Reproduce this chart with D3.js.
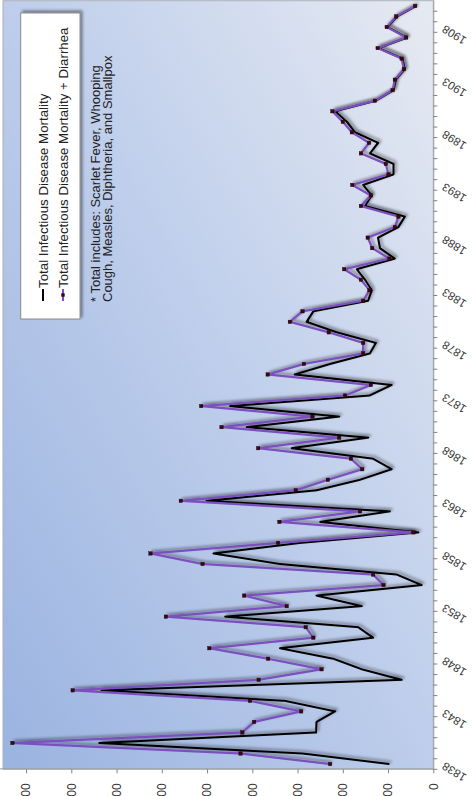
<!DOCTYPE html>
<html><head><meta charset="utf-8">
<script src="https://cdn.jsdelivr.net/npm/d3@7"></script>
<style>html,body{margin:0;padding:0;background:#fff;overflow:hidden}</style>
</head><body>
<svg id="c" width="473" height="796"></svg>
<script>
const years=[1838,1839,1840,1841,1842,1843,1844,1845,1846,1847,1848,1849,1850,1851,1852,1853,1854,1855,1856,1857,1858,1859,1860,1861,1862,1863,1864,1865,1866,1867,1868,1869,1870,1871,1872,1873,1874,1875,1876,1877,1878,1879,1880,1881,1882,1883,1884,1885,1886,1887,1888,1889,1890,1891,1892,1893,1894,1895,1896,1897,1898,1899,1900,1901,1902,1903,1904,1905,1906,1907,1908,1909,1910];
const totalMortality=[97,289,738,259,258,217,328,733,70,158,221,339,133,166,460,158,258,26,81,339,486,295,33,250,96,501,258,162,92,133,313,144,412,208,449,141,92,306,228,140,127,213,280,265,144,136,151,169,85,118,122,77,63,151,136,155,88,88,140,122,173,191,217,127,88,83,63,68,121,58,101,80,38];
const totalWithDiarrhea=[228,426,930,422,396,292,405,797,386,247,365,495,265,282,591,324,418,110,133,510,625,343,44,340,162,558,304,233,157,182,387,208,468,267,513,195,138,366,286,155,155,231,317,289,155,141,160,197,97,135,145,85,77,160,138,179,99,105,160,142,180,200,223,129,90,85,65,70,123,60,103,82,40];
const yearTickLabels=[1838,1843,1848,1853,1858,1863,1868,1873,1878,1883,1888,1893,1898,1903,1908];
const valueTicks=[0,100,200,300,400,500,600,700,800,900];
const seriesNames=["Total Infectious Disease Mortality","Total Infectious Disease Mortality + Diarrhea"];
const footnote=["* Total includes: Scarlet Fever, Whooping","Cough, Measles, Diphtheria, and Smallpox"];

const svg=d3.select("#c");
svg.append("rect").attr("width",473).attr("height",796).attr("fill","#fff");
const defs=svg.append("defs");
const grad=defs.append("linearGradient").attr("id","bg").attr("x1",0).attr("y1",0).attr("x2",1).attr("y2",1);
grad.append("stop").attr("offset","0").attr("stop-color","#9ab3e0");
grad.append("stop").attr("offset","0.5").attr("stop-color","#bdcdeb");
grad.append("stop").attr("offset","1").attr("stop-color","#e6eaf2");
const f=defs.append("filter").attr("id","sh").attr("filterUnits","userSpaceOnUse").attr("x",-50).attr("y",-50).attr("width",900).attr("height",600);
f.append("feGaussianBlur").attr("in","SourceAlpha").attr("stdDeviation",1.6).attr("result","b");
f.append("feOffset").attr("in","b").attr("dx",1.5).attr("dy",1.5).attr("result","o");
f.append("feComponentTransfer").attr("in","o").attr("result","t").append("feFuncA").attr("type","linear").attr("slope",0.45);
const fm=f.append("feMerge");fm.append("feMergeNode").attr("in","t");fm.append("feMergeNode").attr("in","SourceGraphic");

// chart drawn in landscape frame, then rotated -90deg
const g=svg.append("g").attr("transform","translate(0,796) rotate(-90)");
const x=d3.scaleBand().domain(years).range([26.7,795.3]).padding(0);
const y=d3.scaleLinear().domain([0,1000]).range([433.3,-19.2]);
const bw=x.bandwidth();
const plotTop=3;
const ff="Liberation Sans, Arial, sans-serif";

g.append("rect").attr("x",26.7).attr("y",plotTop).attr("width",795.3-26.7).attr("height",y(0)-plotTop)
 .attr("fill","url(#bg)").attr("stroke","#a9b0ba").attr("stroke-width",1);

// value axis
const ya=g.append("g").attr("transform","translate(26.7,0)")
 .call(d3.axisLeft(y).tickValues(valueTicks).tickSize(4).tickPadding(10).tickSizeOuter(0));
ya.select(".domain").attr("stroke","#a0a0a0");
ya.selectAll(".tick line").attr("stroke","#808080");
ya.selectAll("text").attr("font-family",ff).attr("font-size","12px").attr("fill","#333");

// category axis
const xa=g.append("g").attr("transform",`translate(0,${y(0)})`)
 .call(d3.axisBottom(x).tickValues(yearTickLabels).tickSize(0).tickSizeOuter(0));
xa.select(".domain").attr("stroke","#a0a0a0");
xa.selectAll("text").attr("font-family",ff).attr("font-size","11.5px").attr("fill","#333")
 .attr("x",0).attr("y",0).attr("dy","0.35em").attr("text-anchor","end")
 .attr("transform","translate(-1,10) rotate(-58)");
xa.selectAll(".btick").data(years).enter().append("line").attr("class","btick")
 .attr("x1",d=>x(d)).attr("x2",d=>x(d)).attr("y1",0).attr("y2",4).attr("stroke","#808080");

const line=d3.line().x((d,i)=>x(years[i])+bw/2).y(d=>y(d));
g.append("path").datum(totalMortality).attr("d",line).attr("fill","none").attr("stroke","#000").attr("stroke-width",2).attr("stroke-linejoin","round").attr("filter","url(#sh)");
g.append("path").datum(totalWithDiarrhea).attr("d",line).attr("fill","none").attr("stroke","#7b4fbf").attr("stroke-width",2.2).attr("stroke-linejoin","round").attr("filter","url(#sh)");
g.selectAll(".mk").data(totalWithDiarrhea).enter().append("rect").attr("class","mk")
 .attr("x",(d,i)=>x(years[i])+bw/2-1.7).attr("y",d=>y(d)-1.7).attr("width",3.4).attr("height",3.4)
 .attr("fill","#3a0812").attr("stroke","#1a0005").attr("stroke-width",0.4);

// legend
const lg=g.append("g");
lg.append("rect").attr("x",477).attr("y",20.7).attr("width",306).attr("height",59.3).attr("fill","#fff").attr("stroke","#8a8a8a").attr("filter","url(#sh)");
lg.append("line").attr("x1",495).attr("x2",507).attr("y1",43).attr("y2",43).attr("stroke","#000").attr("stroke-width",2);
lg.append("line").attr("x1",495).attr("x2",507).attr("y1",63).attr("y2",63).attr("stroke","#7b4fbf").attr("stroke-width",2);
lg.append("rect").attr("x",499.3).attr("y",61.3).attr("width",3.4).attr("height",3.4).attr("fill","#3a0812");
lg.selectAll(".lt").data(seriesNames).enter().append("text").attr("class","lt")
 .attr("x",508).attr("y",(d,i)=>43+i*20).attr("dy","0.35em").attr("font-family",ff).attr("font-size","13.3px").attr("fill","#222").text(d=>d);
g.selectAll(".fn").data(footnote).enter().append("text").attr("class","fn")
 .attr("x",494).attr("y",(d,i)=>95+i*12.5).attr("dy","0.35em").attr("font-family",ff).attr("font-size","13px").attr("fill","#222").text(d=>d);
</script>
</body></html>
